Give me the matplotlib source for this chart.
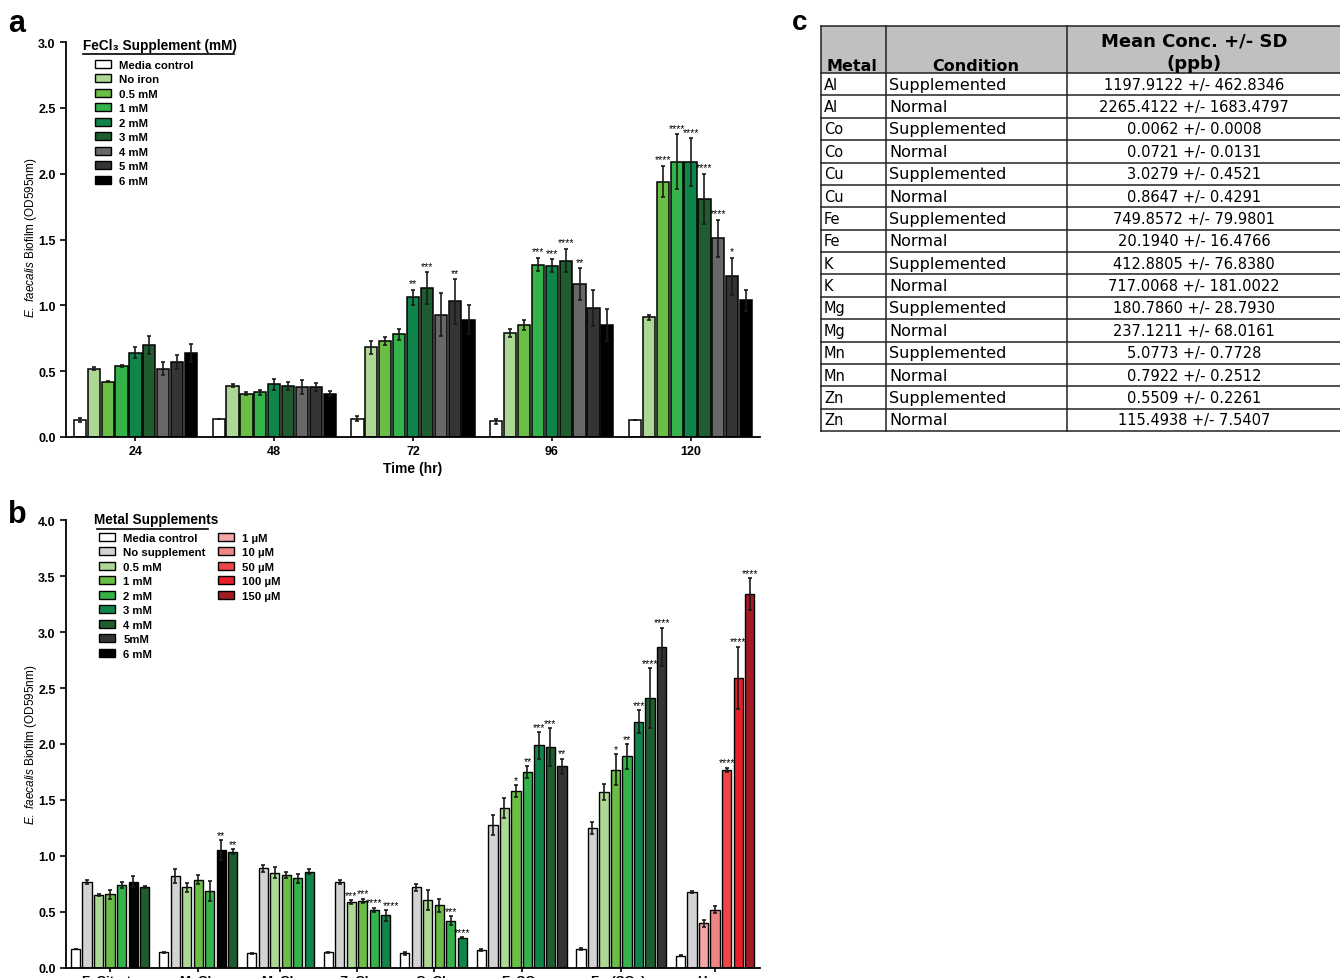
import numpy as np
import matplotlib.pyplot as plt
from matplotlib.patches import Patch
from matplotlib.lines import Line2D

plt.rcParams['font.family'] = ['Liberation Sans', 'DejaVu Sans']
plt.rcParams['mathtext.fontset'] = 'custom'
plt.rcParams['mathtext.it'] = 'Liberation Sans:italic'
plt.rcParams['mathtext.rm'] = 'Liberation Sans'

W, H = 1340, 979

# ---- panel a data: FeCl3 supplement over time
times = ['24', '48', '72', '96', '120']
fe_labels = ['Media control', 'No iron', '0.5 mM', '1 mM', '2 mM', '3 mM', '4 mM', '5 mM', '6 mM']
fe_colors = ['#ffffff', '#acd795', '#6abd45', '#34b34a', '#10854a', '#1f5c30', '#686868', '#343434', '#000000']
fe_mean = np.array([
    [0.13, 0.52, 0.42, 0.54, 0.64, 0.70, 0.52, 0.57, 0.64],
    [0.14, 0.39, 0.33, 0.34, 0.40, 0.39, 0.38, 0.38, 0.33],
    [0.14, 0.68, 0.73, 0.78, 1.06, 1.13, 0.93, 1.03, 0.89],
    [0.12, 0.79, 0.85, 1.31, 1.30, 1.34, 1.16, 0.98, 0.85],
    [0.13, 0.91, 1.94, 2.09, 2.09, 1.81, 1.51, 1.22, 1.04],
])
fe_err = np.array([
    [0.015, 0.01, 0.005, 0.01, 0.04, 0.07, 0.05, 0.05, 0.07],
    [0.0, 0.01, 0.01, 0.02, 0.04, 0.03, 0.05, 0.03, 0.02],
    [0.02, 0.05, 0.03, 0.04, 0.06, 0.12, 0.16, 0.17, 0.11],
    [0.02, 0.03, 0.04, 0.05, 0.05, 0.09, 0.12, 0.14, 0.12],
    [0.0, 0.02, 0.12, 0.21, 0.18, 0.19, 0.14, 0.14, 0.08],
])
fe_sig = [
    ['', '', '', '', '', '', '', '', ''],
    ['', '', '', '', '', '', '', '', ''],
    ['', '', '', '', '**', '***', '', '**', ''],
    ['', '', '', '***', '***', '****', '**', '', ''],
    ['', '', '****', '****', '****', '****', '****', '*', ''],
]

# ---- panel b data: metal supplements
metals = ['FeCitrate', 'MgCl₂', 'MnCl₂', 'ZnCl₂', 'CuCl₂', 'FeSO₄', 'Fe₂(SO₄)₃', 'Heme']
sup_labels = ['Media control', 'No supplement', '0.5 mM', '1 mM', '2 mM', '3 mM', '4 mM', '5mM', '6 mM']
sup_colors = ['#ffffff', '#d3d3d3', '#acd795', '#6abd45', '#34b34a', '#10854a', '#1f5c30', '#343434', '#000000']
heme_labels = ['1 µM', '10 µM', '50 µM', '100 µM', '150 µM']
heme_colors = ['#f4a6a6', '#f08585', '#ee4646', '#e8202a', '#a11b22']
# which colour each bar in a group uses
grp_colors = [
    ['#ffffff', '#d3d3d3', '#acd795', '#6abd45', '#34b34a', '#000000', '#1f5c30'],
    ['#ffffff', '#d3d3d3', '#acd795', '#6abd45', '#34b34a', '#000000', '#1f5c30'],
    ['#ffffff', '#d3d3d3', '#acd795', '#6abd45', '#34b34a', '#10854a'],
    ['#ffffff', '#d3d3d3', '#acd795', '#6abd45', '#34b34a', '#10854a'],
    ['#ffffff', '#d3d3d3', '#acd795', '#6abd45', '#34b34a', '#10854a'],
    ['#ffffff', '#d3d3d3', '#acd795', '#6abd45', '#34b34a', '#10854a', '#1f5c30', '#343434'],
    ['#ffffff', '#d3d3d3', '#acd795', '#6abd45', '#34b34a', '#10854a', '#1f5c30', '#343434'],
    ['#ffffff', '#d3d3d3', '#f4a6a6', '#f08585', '#ee4646', '#e8202a', '#a11b22'],
]
grp_mean = [
    [0.17, 0.77, 0.65, 0.66, 0.74, 0.77, 0.72],
    [0.14, 0.82, 0.72, 0.79, 0.69, 1.05, 1.04],
    [0.13, 0.89, 0.85, 0.83, 0.80, 0.86],
    [0.14, 0.77, 0.59, 0.60, 0.52, 0.47],
    [0.13, 0.72, 0.61, 0.56, 0.42, 0.27],
    [0.16, 1.28, 1.43, 1.58, 1.75, 1.99, 1.97, 1.80],
    [0.17, 1.25, 1.57, 1.77, 1.89, 2.20, 2.41, 2.87],
    [0.11, 0.68, 0.40, 0.52, 1.77, 2.59, 3.34],
]
grp_err = [
    [0.0, 0.02, 0.01, 0.04, 0.03, 0.05, 0.01],
    [0.005, 0.06, 0.04, 0.04, 0.09, 0.09, 0.02],
    [0.005, 0.03, 0.05, 0.03, 0.04, 0.02],
    [0.005, 0.02, 0.02, 0.02, 0.02, 0.05],
    [0.01, 0.03, 0.09, 0.06, 0.04, 0.005],
    [0.01, 0.09, 0.09, 0.05, 0.05, 0.12, 0.17, 0.07],
    [0.01, 0.05, 0.07, 0.14, 0.11, 0.10, 0.27, 0.17],
    [0.005, 0.01, 0.03, 0.03, 0.02, 0.28, 0.14],
]
grp_sig = [
    ['', '', '', '', '', '', ''],
    ['', '', '', '', '', '**', '**'],
    ['', '', '', '', '', ''],
    ['', '', '***', '***', '****', '****'],
    ['', '', '', '', '***', '****'],
    ['', '', '', '*', '**', '***', '***', '**'],
    ['', '', '', '*', '**', '***', '****', '****'],
    ['', '', '', '', '****', '****', '****'],
]

# ---- panel c table
tab_metal = ['Al', 'Al', 'Co', 'Co', 'Cu', 'Cu', 'Fe', 'Fe', 'K', 'K', 'Mg', 'Mg', 'Mn', 'Mn', 'Zn', 'Zn']
tab_cond = ['Supplemented', 'Normal'] * 8
tab_conc = ['1197.9122 +/- 462.8346', '2265.4122 +/- 1683.4797', '0.0062 +/- 0.0008', '0.0721 +/- 0.0131',
            '3.0279 +/- 0.4521', '0.8647 +/- 0.4291', '749.8572 +/- 79.9801', '20.1940 +/- 16.4766',
            '412.8805 +/- 76.8380', '717.0068 +/- 181.0022', '180.7860 +/- 28.7930', '237.1211 +/- 68.0161',
            '5.0773 +/- 0.7728', '0.7922 +/- 0.2512', '0.5509 +/- 0.2261', '115.4938 +/- 7.5407']


def fx(x):
    return x / W


def fy(y):
    return 1 - y / H


fig = plt.figure(figsize=(13.4, 9.79), dpi=100)
ax_a = fig.add_axes([fx(66), fy(438), fx(694), 395 / H])
ax_b = fig.add_axes([fx(66), fy(969), fx(694), 448 / H])

ekw = dict(ecolor='#1a1a1a', elinewidth=1.2, capsize=1.6, capthick=1.2)
leg_kw = dict(frameon=False, prop={'weight': 'bold', 'size': 8.2}, handlelength=1.4, handleheight=0.7,
              handletextpad=0.75, labelspacing=0.39, borderpad=0, borderaxespad=0)


def style_axis(ax):
    for s in ['top', 'right']:
        ax.spines[s].set_visible(False)
    for s in ['left', 'bottom']:
        ax.spines[s].set_linewidth(1.3)
    ax.tick_params(axis='both', width=1.2, length=4, labelsize=9)
    for lab in ax.get_xticklabels() + ax.get_yticklabels():
        lab.set_fontweight('bold')


# panel a
step = 0.1
for j in range(len(fe_labels)):
    xs = np.arange(len(times)) + (j - 4) * step
    ax_a.bar(xs, fe_mean[:, j], 0.088, color=fe_colors[j], edgecolor='black', linewidth=1.1,
             yerr=fe_err[:, j], error_kw=ekw, zorder=2)
    for i in range(len(times)):
        if fe_sig[i][j]:
            ax_a.annotate(fe_sig[i][j], (xs[i], fe_mean[i, j] + fe_err[i, j]), xytext=(0, 1),
                          textcoords='offset points', ha='center', va='bottom', fontsize=7.5)
ax_a.set_xlim(-0.5, 4.5)
ax_a.set_ylim(0, 3.0)
ax_a.set_yticks(np.arange(0, 3.01, 0.5))
ax_a.set_yticklabels(['%.1f' % v for v in np.arange(0, 3.01, 0.5)])
ax_a.set_xticks(range(len(times)))
ax_a.set_xticklabels(times)
style_axis(ax_a)
ax_a.tick_params(axis='x', length=3, pad=3)
ax_a.set_xlabel('Time (hr)', fontsize=10, fontweight='bold', labelpad=3)

fig.text(fx(83), fy(46), 'FeCl₃ Supplement (mM)', fontsize=9.8, fontweight='bold', ha='left', va='center')
fig.add_artist(Line2D([fx(83), fx(234)], [fy(55), fy(55)], color='black', lw=1.2))
h_a = [Patch(facecolor=c, edgecolor='black', linewidth=1.0) for c in fe_colors]
ax_a.legend(h_a, fe_labels, loc='upper left', bbox_to_anchor=(fx(95), fy(61)),
            bbox_transform=fig.transFigure, **leg_kw)

# panel b
gap = 0.65
centers = []
pos = 0.0
for g in range(len(metals)):
    n = len(grp_mean[g])
    xs = pos + np.arange(n)
    ax_b.bar(xs, grp_mean[g], 0.8, color=grp_colors[g], edgecolor='black', linewidth=1.0,
             yerr=grp_err[g], error_kw=ekw, zorder=2)
    for k in range(n):
        if grp_sig[g][k]:
            # the last ZnCl2 star label sits a little to the right, as in the source figure
            dx = 4 if (g == 3 and k == n - 1) else 0
            ax_b.annotate(grp_sig[g][k], (xs[k], grp_mean[g][k] + grp_err[g][k]), xytext=(dx, 0),
                          textcoords='offset points', ha='center', va='bottom', fontsize=7.5)
    centers.append(xs.mean())
    pos += n + gap
ax_b.set_xlim(-0.83, pos - gap - 1 + 0.9)
ax_b.set_ylim(0, 4.0)
ax_b.set_yticks(np.arange(0, 4.01, 0.5))
ax_b.set_yticklabels(['%.1f' % v for v in np.arange(0, 4.01, 0.5)])
ax_b.set_xticks(centers)
ax_b.set_xticklabels(metals)
style_axis(ax_b)
ax_b.tick_params(axis='x', length=3, pad=2, labelsize=9.5)

fig.text(fx(94), fy(520), 'Metal Supplements', fontsize=9.8, fontweight='bold', ha='left', va='center')
fig.add_artist(Line2D([fx(97), fx(208)], [fy(530), fy(530)], color='black', lw=1.2))
h_b1 = [Patch(facecolor=c, edgecolor='black', linewidth=1.0) for c in sup_colors]
leg_b1 = ax_b.legend(h_b1, sup_labels, loc='upper left', bbox_to_anchor=(fx(99), fy(534)),
                     bbox_transform=fig.transFigure, **leg_kw)
ax_b.add_artist(leg_b1)
h_b2 = [Patch(facecolor=c, edgecolor='black', linewidth=1.0) for c in heme_colors]
ax_b.legend(h_b2, heme_labels, loc='upper left', bbox_to_anchor=(fx(218), fy(534)),
            bbox_transform=fig.transFigure, **leg_kw)

for ax, yc in [(ax_a, 238), (ax_b, 745)]:
    fig.text(fx(31), fy(yc), r'$\it{E.\ faecalis}$ Biofilm (OD595nm)', rotation=90,
             ha='center', va='center', fontsize=8.5)

# panel labels
fig.text(fx(8), fy(24), 'a', fontsize=22, fontweight='bold', ha='left', va='center')
fig.text(fx(8), fy(515), 'b', fontsize=22, fontweight='bold', ha='left', va='center')
fig.text(fx(792), fy(23), 'c', fontsize=20, fontweight='bold', ha='left', va='center')

# panel c table, drawn in pixel space
ax_c = fig.add_axes([0, 0, 1, 1])
ax_c.set_xlim(0, W)
ax_c.set_ylim(H, 0)
ax_c.axis('off')
col_x = [821, 886, 1067, 1350]
top, head_bot = 27, 74
row_h = (432 - head_bot) / len(tab_metal)
ax_c.fill_between([col_x[0], col_x[-1]], top, head_bot, color='#c0c0c0', lw=0)
for i in range(len(tab_metal) + 1):
    y = head_bot + i * row_h
    ax_c.plot([col_x[0], col_x[-1]], [y, y], color='#222222', lw=1.1)
ax_c.plot([col_x[0], col_x[-1]], [top, top], color='#222222', lw=1.1)
for x in col_x[:-1]:
    ax_c.plot([x, x], [top, head_bot + len(tab_metal) * row_h], color='#222222', lw=1.1)
hfont = dict(family='DejaVu Sans', fontsize=11.5, fontweight='bold')
ax_c.text(826, 71, 'Metal', ha='left', va='baseline', **hfont)
ax_c.text(976, 71, 'Condition', ha='center', va='baseline', **hfont)
ax_c.text(1194, 46, 'Mean Conc. +/- SD', ha='center', va='baseline', fontsize=13, family='DejaVu Sans',
          fontweight='bold')
ax_c.text(1194, 69, '(ppb)', ha='center', va='baseline', fontsize=13, family='DejaVu Sans',
          fontweight='bold')
bfont = dict(family='DejaVu Sans', fontsize=10.5)
for i in range(len(tab_metal)):
    yc = head_bot + (i + 0.5) * row_h
    ax_c.text(824, yc, tab_metal[i], ha='left', va='center', **bfont)
    ax_c.text(889, yc, tab_cond[i], ha='left', va='center', family='DejaVu Sans', fontsize=11.5)
    ax_c.text(1194, yc, tab_conc[i], ha='center', va='center', **bfont)

fig.savefig('out.png', dpi=100)
